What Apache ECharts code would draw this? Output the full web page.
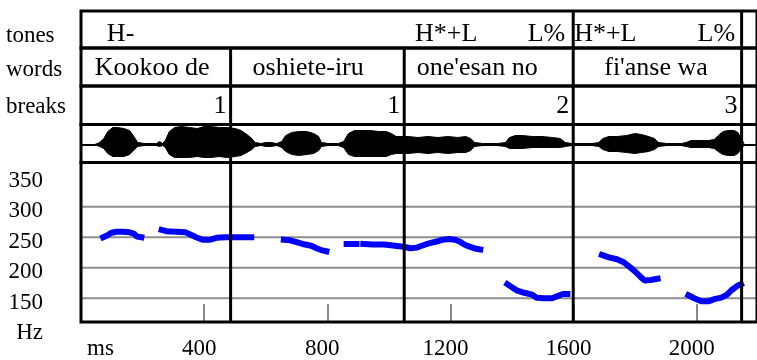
<!DOCTYPE html>
<html><head><meta charset="utf-8">
<script src="https://cdn.jsdelivr.net/npm/echarts@6/dist/echarts.min.js"></script>
<style>html,body{margin:0;padding:0;background:#fff}#c{width:757px;height:360px}</style>
</head><body><div id="c"></div>
<script>
// ---- data ----
const tierNames = ['tones', 'words', 'breaks'];
const toneLabels = ['H-', 'H*+L', 'L%', 'H*+L', 'L%'];
const toneTimes = [84, 1085, 1573, 1602, 2125];
const toneBounds = [1599, 2146];
const wordLabels = ["Kookoo de", "oshiete-iru", "one'esan no", "fi'anse wa"];
const wordCenters = [231, 738, 1287, 1868];
const wordBounds = [486, 1050, 1599, 2146];
const breakLabels = ['1', '1', '2', '3'];

const waveTime = [45,61,74,87,103,119,139,158,174,184,207,245,255,265,274,287,304,326,352,378,400,423,449,475,501,520,539,555,565,585,601,617,636,652,665,685,707,733,756,772,781,804,836,853,869,888,914,940,966,991,1008,1024,1062,1095,1127,1159,1192,1224,1250,1266,1279,1305,1353,1379,1392,1411,1434,1466,1498,1531,1557,1573,1595,1660,1682,1695,1715,1741,1773,1799,1821,1844,1863,1876,1902,1950,1966,1982,2015,2038,2057,2070,2086,2102,2122,2134,2144,2154];
const waveUpper = [0,2,6,13,17,17,16,14,7,2,1,1,3,1,4,13,17,18,17,16,18,18,17,17,16,14,10,6,2,1,2,2,1,3,9,12,13,13,11,8,2,1,1,3,11,14,14,14,13,13,11,8,8,7,8,7,8,7,8,6,2,1,1,2,7,9,9,8,8,7,6,2,1,1,2,6,8,8,9,11,10,8,6,2,1,1,2,4,4,4,5,9,13,14,14,12,6,1];
const waveLower = [0,-2,-4,-9,-12,-12,-12,-10,-5,-2,-1,-1,-2,-1,-3,-10,-13,-13,-13,-12,-13,-13,-12,-13,-12,-11,-8,-5,-2,-1,-2,-2,-1,-3,-7,-10,-11,-10,-9,-6,-2,-1,-1,-3,-10,-12,-12,-12,-12,-12,-10,-9,-9,-8,-9,-8,-9,-8,-8,-6,-2,-1,-1,-2,-4,-4,-4,-3,-3,-3,-3,-2,-1,-1,-2,-5,-7,-7,-8,-9,-8,-7,-5,-2,-1,-1,-2,-3,-3,-3,-4,-7,-10,-11,-11,-9,-4,-1];

const pitchTime = [72,85,97,115,135,158,172,182,196,null,
  262,277,309,340,357,374,395,420,440,470,510,553,null,
  659,680,700,720,748,765,780,797,null,
  863,895,null,
  917,950,985,1020,1053,1069,1090,1107,1130,1155,1175,1195,1215,1230,1245,1260,1284,1297,null,
  1385,1400,1415,1440,1465,1480,1505,1530,1550,1565,1580,null,
  1692,1715,1741,1763,1783,1802,1818,1831,1850,1873,null,
  1973,1992,2015,2038,2060,2080,2099,2115,2131,2144];
const pitchHz = [250,253,257,259,259,258,256,251,250,null,
  262,260,259,258,254,250,246,246,249,250,250,250,null,
  246,245,242,239,236,232,229,227,null,
  239,239,null,
  239,238,238,236,234,232,233,236,240,243,246,247,246,243,238,235,231,230,null,
  173,168,163,159,156,151,150,150,154,157,157,null,
  221,217,214,209,201,193,185,179,180,182,null,
  155,150,145,145,149,151,156,164,170,173];

const gridHz = [150, 200, 250, 300];
const yTickLabels = [150, 200, 250, 300, 350];
const xTickLabels = [400, 800, 1200, 1600, 2000];

// ---- layout ----
const FONT = "'Liberation Serif', 'Times New Roman', serif";
const XMAX = 2196;
const LEFT = 81, WIDTH = 680;
const grids = [
  {top: 11, height: 37},      // tones
  {top: 48, height: 38},      // words
  {top: 86, height: 38.5},    // breaks
  {top: 124.5, height: 38},   // waveform
  {top: 162.5, height: 168},  // pitch frame
  {top: 176.2, height: 152.6} // pitch values
];
const nameShift = [12, 6, 4];   // lineHeight trick: glyph centre = middle + lh/2
const textDy = [5, 1, 1];

const gridOpts = grids.map((g, i) => ({
  left: LEFT, width: WIDTH, top: g.top, height: g.height,
  show: i < 5, borderColor: '#000', borderWidth: 3, backgroundColor: 'transparent', z: 10
}));

const xAxes = grids.map((g, i) => {
  const ax = {gridIndex: i, type: 'value', min: 0, max: XMAX, show: false,
    splitLine: {show: false}, axisLabel: {show: false}, axisTick: {show: false}, axisLine: {show: false}};
  if (i === 3) {
    ax.show = true;
    ax.axisLine = {show: true, onZero: true, lineStyle: {color: '#000', width: 2}};
  }
  if (i === 4) {
    ax.show = true;
    ax.interval = 400;
    ax.axisLine = {show: false};
    ax.axisTick = {show: true, inside: true, length: 18, lineStyle: {color: '#8a8a8a', width: 2}};
    ax.axisLabel = {
      show: true, margin: 15, color: '#000', fontFamily: FONT, fontSize: 23,
      padding: [0, 10, 0, 0], showMaxLabel: false,
      formatter: v => v === 0 ? '{ms|ms}' : (xTickLabels.includes(v) ? String(v) : ''),
      rich: {ms: {fontFamily: FONT, fontSize: 23, color: '#000', padding: [0, 0, 0, 49]}}
    };
  }
  return ax;
});

const yAxes = grids.map((g, i) => {
  const ax = {gridIndex: i, type: 'value', min: 0, max: 1, show: false,
    splitLine: {show: false}, axisLabel: {show: false}, axisTick: {show: false}, axisLine: {show: false}};
  if (i < 3) {
    ax.show = true;
    ax.name = tierNames[i];
    ax.nameLocation = 'middle';
    ax.nameRotate = 0;
    ax.nameGap = 75;
    ax.nameTextStyle = {align: 'left', verticalAlign: 'top', lineHeight: nameShift[i],
      color: '#000', fontFamily: FONT, fontSize: 23};
  }
  if (i === 3) { ax.min = -18; ax.max = 20; }
  if (i === 5) {
    ax.show = true; ax.min = 100; ax.max = 350; ax.interval = 50;
    ax.axisLabel = {show: true, margin: 38, color: '#000', fontFamily: FONT, fontSize: 23,
      verticalAlign: 'top', lineHeight: 9,
      formatter: v => v === 100 ? 'Hz' : (yTickLabels.includes(v) ? String(v) : '')};
  }
  return ax;
});

function textSeries(idx, times, labels, alignOf, dx) {
  return {
    type: 'custom', xAxisIndex: idx, yAxisIndex: idx, z: 6, silent: true,
    data: times.map((t, i) => [t, i]),
    renderItem(params, api) {
      const i = api.value(1);
      const p = api.coord([api.value(0), 0.5]);
      const al = alignOf(labels[i]);
      return {type: 'text', x: p[0] + (al === 'right' ? -dx : 0), y: p[1] + textDy[idx],
        style: {text: labels[i], fill: '#000', font: '26px ' + FONT, align: al, verticalAlign: 'middle'}};
    }
  };
}

function boundSeries(idx, bounds, y0, y1) {
  return {
    type: 'custom', xAxisIndex: idx, yAxisIndex: idx, z: 7, silent: true,
    data: bounds.map(b => [b, y0]),
    renderItem(params, api) {
      const a = api.coord([api.value(0), y1]);
      const b = api.coord([api.value(0), y0]);
      return {type: 'line', shape: {x1: a[0], y1: a[1], x2: b[0], y2: b[1]},
        style: {stroke: '#000', lineWidth: 3}};
    }
  };
}

const series = [
  textSeries(0, toneTimes, toneLabels, s => s.endsWith('%') ? 'right' : 'left', 0),
  boundSeries(0, toneBounds, 0, 1),
  textSeries(1, wordCenters, wordLabels, () => 'center', 0),
  boundSeries(1, wordBounds, 0, 1),
  textSeries(2, wordBounds, breakLabels, () => 'right', 4),
  boundSeries(2, wordBounds, 0, 1),
  {type: 'line', xAxisIndex: 3, yAxisIndex: 3, z: 3, silent: true, symbol: 'none',
   data: waveTime.map((t, i) => [t, waveUpper[i]]),
   lineStyle: {color: '#000', width: 1}, areaStyle: {color: '#000', opacity: 1}},
  {type: 'line', xAxisIndex: 3, yAxisIndex: 3, z: 3, silent: true, symbol: 'none',
   data: waveTime.map((t, i) => [t, waveLower[i]]),
   lineStyle: {color: '#000', width: 1}, areaStyle: {color: '#000', opacity: 1}},
  boundSeries(3, wordBounds, -18, 20),
  boundSeries(4, wordBounds, 0, 1),
  {type: 'custom', xAxisIndex: 5, yAxisIndex: 5, z: 1, silent: true,
   data: gridHz.map(v => [0, v]),
   renderItem(params, api) {
     const a = api.coord([0, api.value(1)]);
     const b = api.coord([XMAX, api.value(1)]);
     return {type: 'line', shape: {x1: a[0], y1: a[1], x2: b[0], y2: b[1]},
       style: {stroke: '#8e8e8e', lineWidth: 2}};
   }},
  {type: 'line', xAxisIndex: 5, yAxisIndex: 5, z: 3, silent: true, symbol: 'none',
   connectNulls: false,
   data: pitchTime.map((t, i) => t === null ? ['-', '-'] : [t, pitchHz[i]]),
   lineStyle: {color: '#0000ff', width: 6, cap: 'square', join: 'bevel'}}
];

const chart = echarts.init(document.getElementById('c'), null, {renderer: 'canvas'});
chart.setOption({
  animation: false,
  backgroundColor: '#fff',
  grid: gridOpts,
  xAxis: xAxes,
  yAxis: yAxes,
  series: series
});
</script>
</body></html>
